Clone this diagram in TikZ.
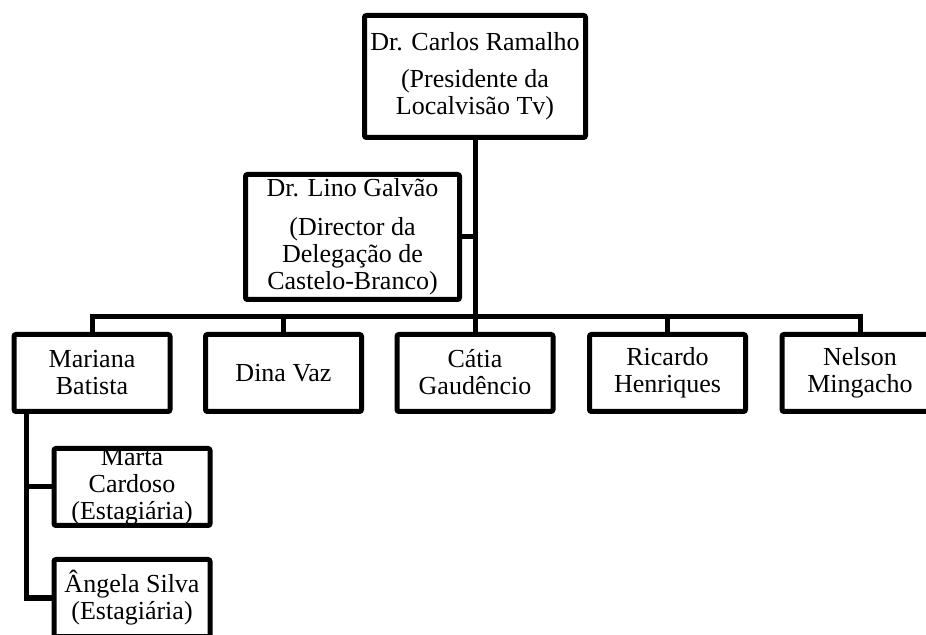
\documentclass[tikz,border=0pt]{standalone}
\usepackage{fontspec}
\setmainfont{Liberation Serif}
\tikzset{
  cargo/.style={draw, line width=2.5pt, rounded corners=1pt, align=center,
    inner sep=1pt, minimum width=78pt, minimum height=38.5pt,
    font=\fontsize{13}{13.5}\selectfont},
  liga/.style={line width=2.5pt}
}
\begin{document}
\begin{tikzpicture}[x=0.5pt,y=-0.5pt]
    \useasboundingbox (0,0) rectangle (926,635);
    \clip (0,0) rectangle (926,635);
    \coordinate (bus) at (0,317);

    \node[cargo, minimum width=110.5pt, minimum height=61pt] (carlos) at (475,76.5)
      {Dr. Carlos Ramalho\\[5pt](Presidente da\\Localvisão Tv)};
    \node[cargo, minimum width=107pt, minimum height=62.5pt] (lino) at (352.5,237)
      {Dr. Lino Galvão\\[6pt](Director da\\Delegação de\\Castelo-Branco)};

    \node[cargo] (mariana) at (92,373) {Mariana\\Batista};
    \node[cargo] (dina) at (283.5,373) {Dina Vaz};
    \node[cargo] (catia) at (475,373) {C\smash{á}tia\\Gaudêncio};
    \node[cargo] (ricardo) at (667.5,373) {Ricardo\\Henriques};
    \node[cargo] (nelson) at (860,373) {Nelson\\Mingacho};

    \node[cargo, inner ysep=-1.5pt] (marta) at (132,487)
      {Marta\\Cardoso\\(Estagiária)};
    \node[cargo] (angela) at (132,598) {Ângela Silva\\(Estagiária)};

    \coordinate (mdrop) at ([xshift=7.5pt]mariana.south west);

    \draw[liga] (carlos.south) -- (catia.north);
    \draw[liga] (lino.east) -- (lino.east -| carlos.south);
    \draw[liga] (mariana.north) -- (mariana.north |- bus)
      -- (nelson.north |- bus) -- (nelson.north);
    \foreach \n in {dina, ricardo}
      \draw[liga] (\n.north) -- (\n.north |- bus);
    \draw[liga] (mdrop) |- (angela.west);
    \draw[liga] (mdrop |- marta.west) -- (marta.west);
\end{tikzpicture}
\end{document}
